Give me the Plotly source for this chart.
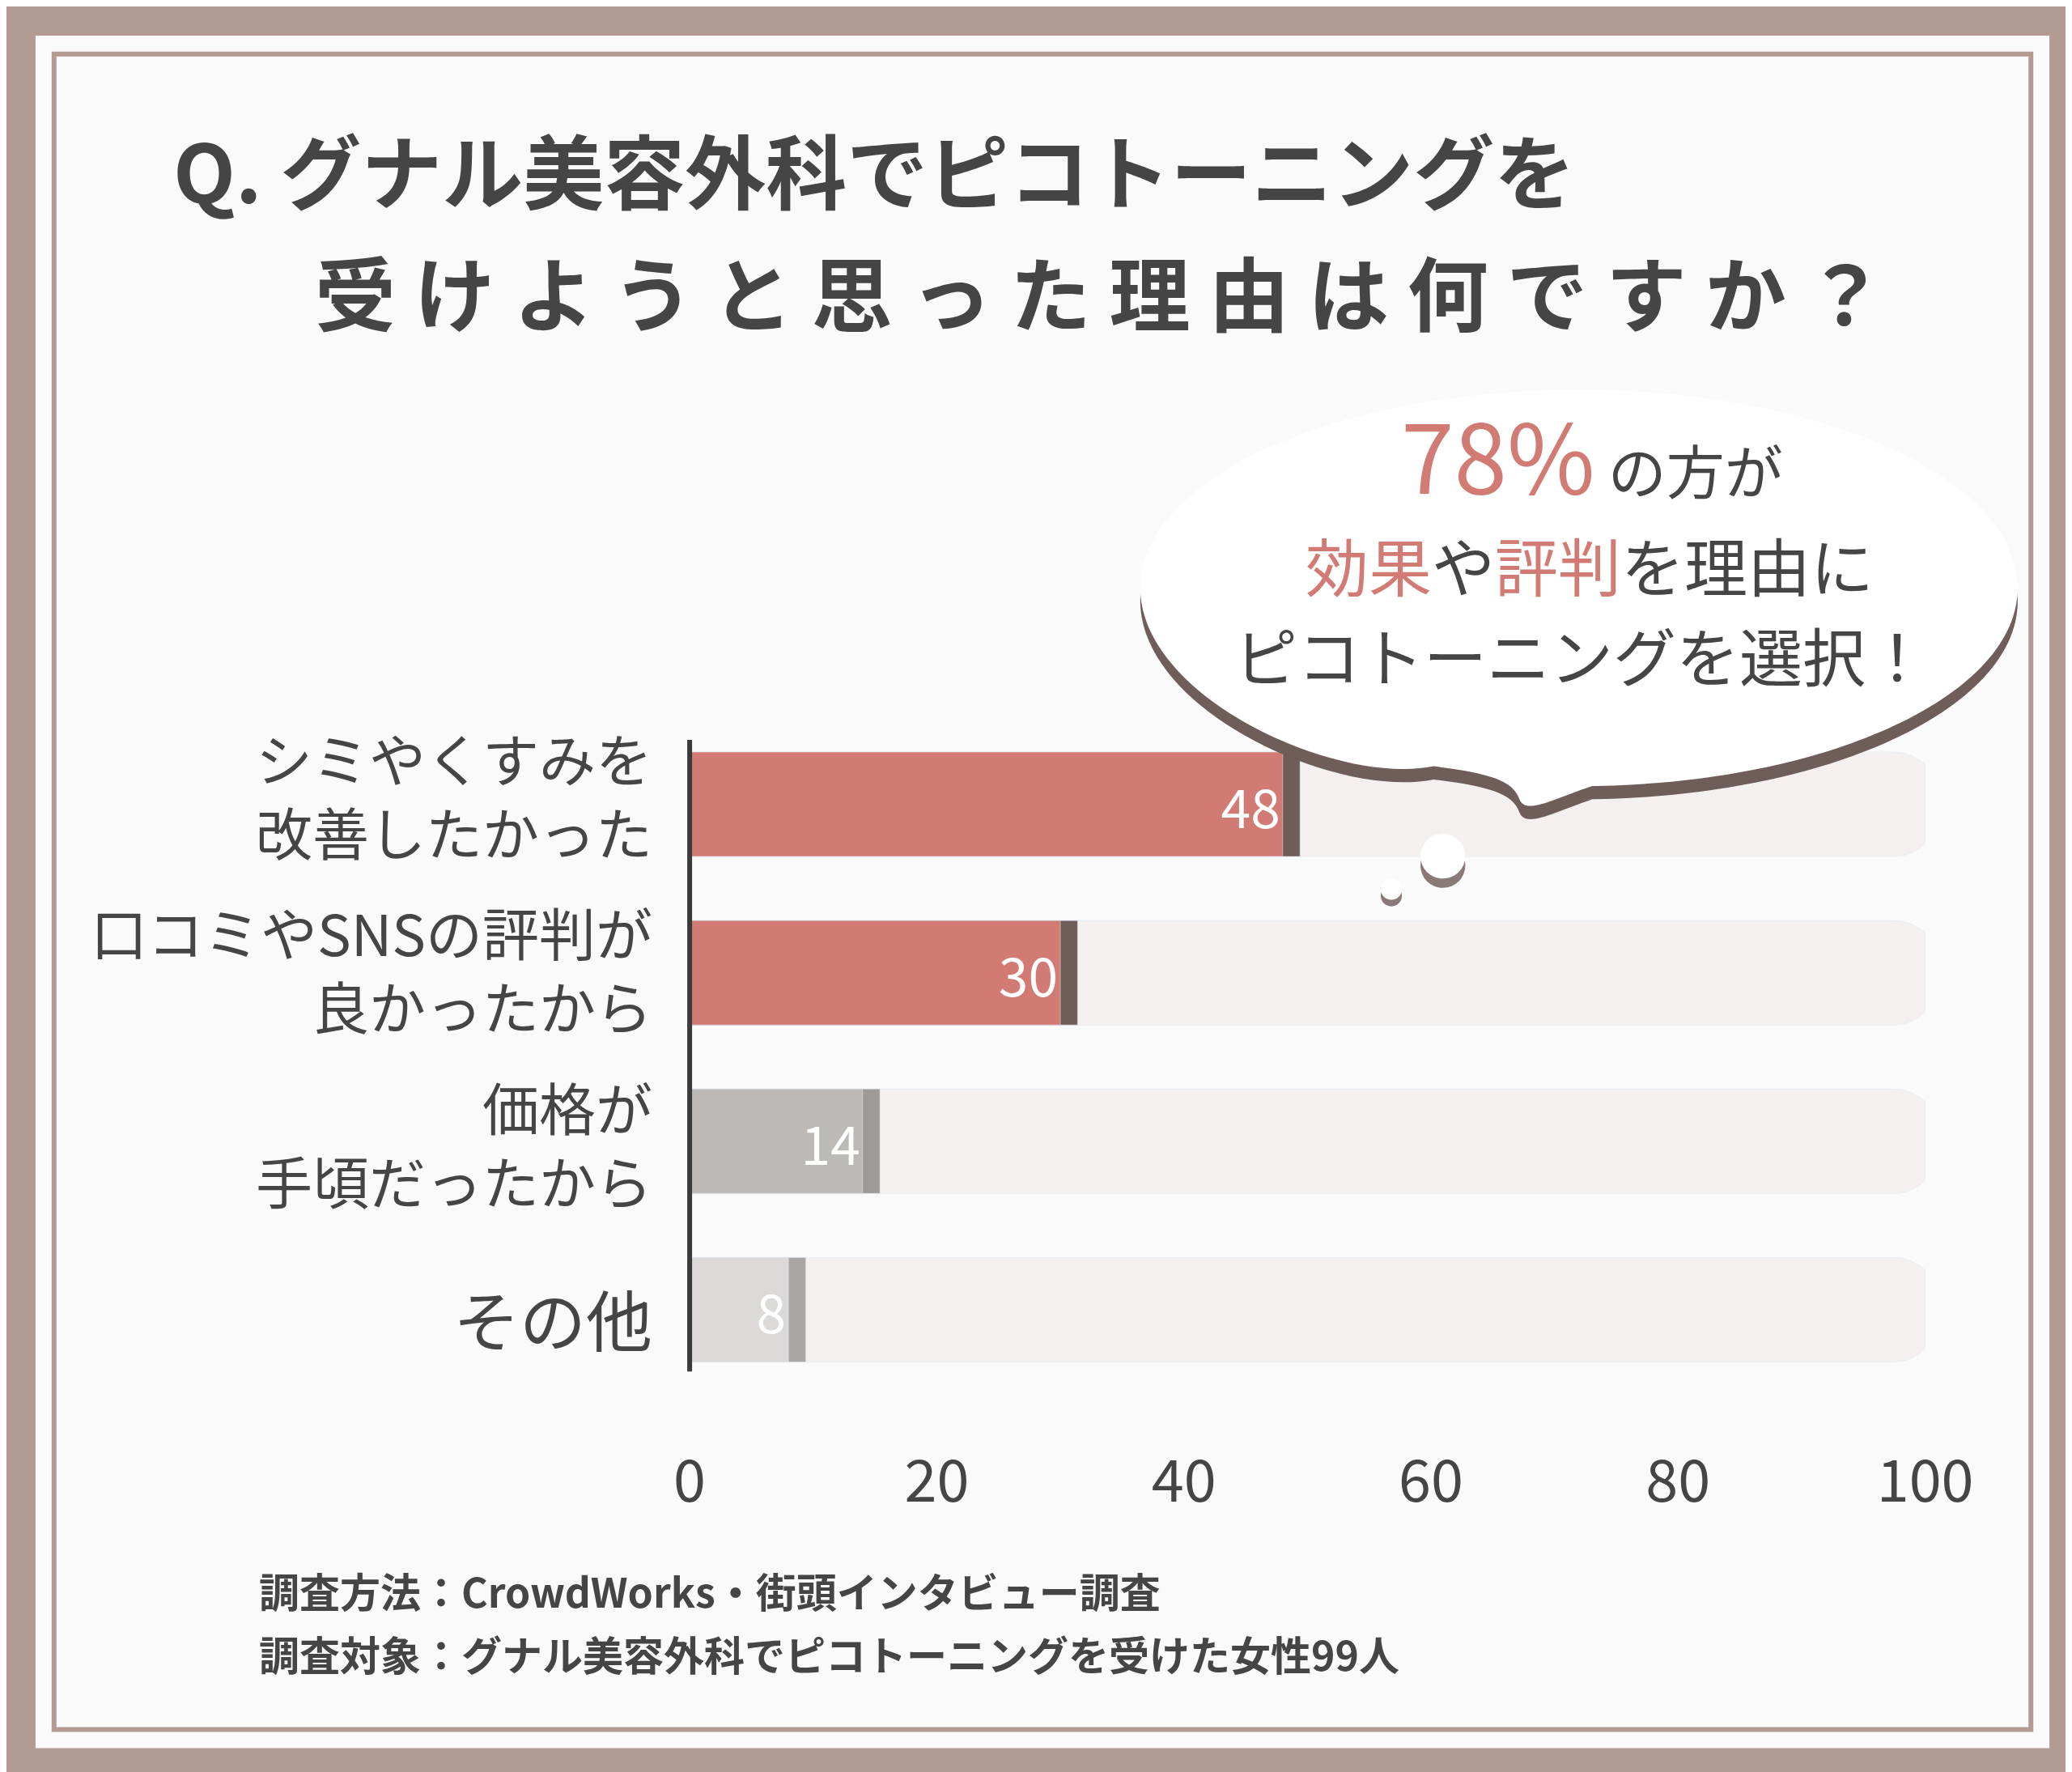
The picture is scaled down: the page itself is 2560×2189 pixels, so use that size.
import plotly.graph_objects as go

W, H = 2560, 2189

categories = ["シミやくすみを<br>改善したかった", "口コミやSNSの評判が<br>良かったから", "価格が<br>手頃だったから", "その他"]
values = [48, 30, 14, 8]
bar_colors = ["#d27a74", "#d27a74", "#bdb9b7", "#dcd9d8"]
shadow_colors = ["#6f5d5a", "#6f5d5a", "#9e9a98", "#a9a6a5"]
tick_vals = [0, 20, 40, 60, 80, 100]

FONT = "Noto Sans CJK JP"
DARK = "#454545"
RED = "#d27a74"


def px(x, y):
    return x / 1568, 1 - y / 1341


fig = go.Figure()
# tracks
fig.add_trace(go.Bar(y=categories, x=[101.2] * 4, orientation="h", marker=dict(color="#e6e2e0", cornerradius="45%"), width=0.62, hoverinfo="skip"))
fig.add_trace(go.Bar(y=categories, x=[100] * 4, orientation="h", marker=dict(color="#f3f0ef", cornerradius="45%"), width=0.62, hoverinfo="skip"))
# shadows
fig.add_trace(go.Bar(y=categories, x=[v + 1.4 for v in values], orientation="h", marker=dict(color=shadow_colors, cornerradius="45%"), width=0.62, hoverinfo="skip"))
# bars
fig.add_trace(go.Bar(
    y=categories, x=values, orientation="h", width=0.62,
    marker=dict(color=bar_colors, cornerradius="45%"),
    text=[str(v) for v in values], textposition="inside", insidetextanchor="end",
    textfont=dict(color="white", size=66, family=FONT), textangle=0,
))

x0, ytop = px(517, 540)
x1, ybot = px(1452, 1050)

fig.update_layout(
    width=W, height=H, barmode="overlay", showlegend=False,
    paper_bgcolor="#b39b93", plot_bgcolor="rgba(0,0,0,0)",
    margin=dict(l=0, r=0, t=0, b=0, pad=0, autoexpand=False),
    font=dict(family=FONT, color=DARK),
    xaxis=dict(domain=[x0, x1], range=[0, 100], tickvals=tick_vals, showgrid=False, zeroline=False,
               tickfont=dict(size=72, color=DARK), ticklabelstandoff=60, fixedrange=True, automargin=False),
    yaxis=dict(domain=[ybot, ytop], autorange="reversed", showticklabels=False, showgrid=False,
               showline=False, fixedrange=True, automargin=False),
)

shapes = []
a, b = px(22, 22); c, d = px(1546, 1318)
shapes.append(dict(type="rect", xref="paper", yref="paper", x0=a, y0=d, x1=c, y1=b, fillcolor="#fbfafa", line=dict(width=0), layer="below"))
a, b = px(36, 36); c, d = px(1532, 1304)
shapes.append(dict(type="rect", xref="paper", yref="paper", x0=a, y0=d, x1=c, y1=b, line=dict(color="#b39b93", width=6), layer="below"))
a, b = px(517, 555); c, d = px(517, 1033)
shapes.append(dict(type="line", xref="paper", yref="paper", x0=a, y0=b, x1=c, y1=d, line=dict(color="#3a3a3a", width=6)))


def bubble_path(dx=0, dy=0):
    cx, cy, rx, ry = 1190 + dx, 440 + dy, 332, 150
    k = 0.5523

    def p(x, y):
        u, v = px(x, y)
        return f"{u:.5f},{v:.5f}"
    path = f"M {p(cx - rx, cy)} "
    path += f"C {p(cx - rx, cy - k * ry)} {p(cx - k * rx, cy - ry)} {p(cx, cy - ry)} "
    path += f"C {p(cx + k * rx, cy - ry)} {p(cx + rx, cy - k * ry)} {p(cx + rx, cy)} "
    path += f"C {p(cx + rx, cy + k * ry)} {p(cx + k * rx, cy + ry)} {p(cx, cy + ry)} "
    path += f"L {p(1200 + dx, 590 + dy)} C {p(1170 + dx, 600 + dy)} {p(1150 + dx, 612 + dy)} {p(1145 + dx, 600 + dy)} "
    path += f"C {p(1140 + dx, 585 + dy)} {p(1120 + dx, 580 + dy)} {p(1080 + dx, 575 + dy)} "
    path += f"C {p(cx - k * rx, cy + ry)} {p(cx - rx, cy + k * ry)} {p(cx - rx, cy)} Z"
    return path


shapes.append(dict(type="path", xref="paper", yref="paper", path=bubble_path(0, 10), fillcolor="#6f5d5a", line=dict(width=0)))
shapes.append(dict(type="path", xref="paper", yref="paper", path=bubble_path(), fillcolor="white", line=dict(width=0)))
for cx, cy, r, col in [(1087, 650, 17, "#8a7a77"), (1087, 643, 17, "white"), (1048, 673, 8, "#8a7a77"), (1048, 668, 8, "white")]:
    a, b = px(cx - r, cy - r); c, d = px(cx + r, cy + r)
    shapes.append(dict(type="circle", xref="paper", yref="paper", x0=a, y0=d, x1=c, y1=b, fillcolor=col, line=dict(width=0)))
fig.update_layout(shapes=shapes)

ann = []


def text(x, y, t, size, xanchor="left", color=DARK, yanchor="middle", align="left"):
    u, v = px(x, y)
    ann.append(dict(xref="paper", yref="paper", x=u, y=v, text=t, showarrow=False, xanchor=xanchor,
                    yanchor=yanchor, align=align, font=dict(size=size, color=color, family=FONT)))


text(125, 122, "<b>Q. グナル美容外科でピコトーニングを</b>", 100)
text(232, 215, "<b>受 け よ う と 思 っ た 理 由 は 何 で す か ？</b>", 100)
text(1200, 337, f"<span style='font-size:118px;color:{RED}'>78%</span> の方が", 72, xanchor="center")
text(1198, 422, f"<span style='color:{RED}'>効果</span>や<span style='color:{RED}'>評判</span>を理由に", 78, xanchor="center")
text(1192, 490, "ピコトーニングを選択！", 78, xanchor="center")
label_y = [596, 728, 860, 992]
for cat, yy in zip(categories, label_y):
    text(490, yy, cat, 70 if cat != "その他" else 82, xanchor="right", align="right")
text(190, 1198, "<b>調査方法：CrowdWorks・街頭インタビュー調査</b>", 50)
text(190, 1246, "<b>調査対象：グナル美容外科でピコトーニングを受けた女性99人</b>", 50)
fig.update_layout(annotations=ann)

fig.write_html("out.html")
